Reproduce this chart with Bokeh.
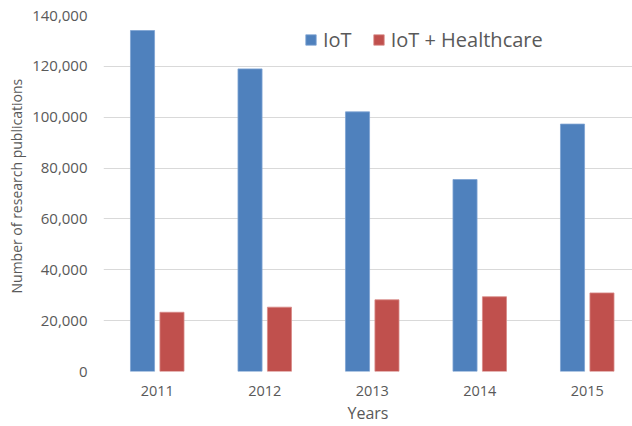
from bokeh.plotting import figure
from bokeh.models import (ColumnDataSource, Range1d, FixedTicker, NumeralTickFormatter,
                          Legend, LegendItem, Title)
from bokeh.embed import file_html
from bokeh.resources import INLINE

years = ["2011", "2012", "2013", "2014", "2015"]
iot = [134100, 119000, 102100, 75500, 97300]
iot_health = [23300, 25300, 28200, 29400, 30900]
y_ticks = [0, 20000, 40000, 60000, 80000, 100000, 120000, 140000]

pos = list(range(len(years)))
src = ColumnDataSource(dict(
    x_iot=[p_ - 0.137 for p_ in pos],
    x_hc=[p_ + 0.137 for p_ in pos],
    iot=iot, hc=iot_health))

p = figure(width=632, height=426, output_backend="svg", toolbar_location=None,
           x_range=Range1d(-0.5, 4.421), y_range=Range1d(0, 140000),
           min_border_left=103, min_border_right=0, min_border_top=15, min_border_bottom=55,
           outline_line_color=None)
p.background_fill_color = "white"
p.border_fill_color = "white"

r1 = p.vbar(x="x_iot", top="iot", width=0.224, source=src, fill_color="#4f81bd",
            line_color="#7ea3d3", line_width=0.8)
r2 = p.vbar(x="x_hc", top="hc", width=0.224, source=src, fill_color="#c0504d",
            line_color="#d88a88", line_width=0.8)

TXT = "#595959"
FONT = "Open Sans"

p.xaxis.ticker = FixedTicker(ticks=pos)
p.xaxis.major_label_overrides = {i: y for i, y in enumerate(years)}
p.yaxis.ticker = FixedTicker(ticks=y_ticks)
p.yaxis.formatter = NumeralTickFormatter(format="0,0")

for ax in (p.xaxis[0], p.yaxis[0]):
    ax.axis_line_color = None
    ax.major_tick_line_color = None
    ax.minor_tick_line_color = None
    ax.major_tick_out = 0
    ax.major_tick_in = 0
    ax.minor_tick_out = 0
    ax.minor_tick_in = 0
    ax.major_label_text_color = TXT
    ax.major_label_text_font = FONT
    ax.axis_label_text_color = TXT
    ax.axis_label_text_font = FONT
    ax.axis_label_text_font_style = "normal"

p.xaxis.major_label_text_font_size = "14.5px"
p.yaxis.major_label_text_font_size = "15px"
p.xaxis.axis_label = "Years"
p.xaxis.axis_label_text_font_size = "16px"
p.xaxis.major_label_standoff = 14
p.xaxis.axis_label_standoff = 3
p.yaxis.major_label_standoff = 16

ytitle = Title(text="Number of research publications", align="left", offset=78,
               standoff=7, text_font=FONT, text_font_size="14px", text_color=TXT,
               text_font_style="normal")
p.add_layout(ytitle, "left")

p.xgrid.grid_line_color = None
p.ygrid.grid_line_color = "#d9d9d9"
p.ygrid.grid_line_width = 1

legend = Legend(items=[LegendItem(label="IoT", renderers=[r1]),
                       LegendItem(label="IoT + Healthcare", renderers=[r2])],
                orientation="horizontal", location=(201, 318),
                border_line_color=None, background_fill_alpha=0,
                label_text_font=FONT, label_text_font_size="20px", label_text_color=TXT,
                glyph_width=13, glyph_height=13, label_standoff=6, spacing=20,
                padding=0, margin=0)
p.add_layout(legend, "center")

open("out.html", "w").write(file_html(p, INLINE))
